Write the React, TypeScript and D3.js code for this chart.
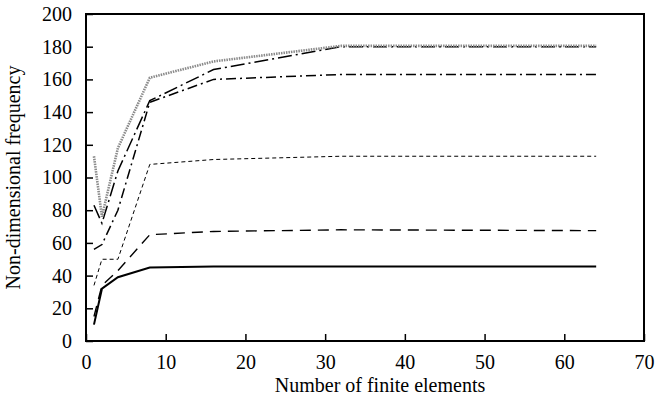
import * as d3 from 'd3';
import { useEffect, useRef } from 'react';

// number of elements used in each run
const elements = [1, 2, 4, 8, 16, 32, 64];

// non-dimensional frequencies, one array per mode
const mode1 = [10, 32, 39, 45, 45.5, 45.5, 45.5];
const mode2 = [15, 34, 43, 65, 67, 68, 67.5];
const mode3 = [34, 50, 50, 108, 111, 113, 113];
const mode4 = [56, 59, 80, 146, 160, 163, 163];
const mode5 = [83, 72, 104, 147, 166, 180, 180];
const mode6 = [113, 76, 118, 161, 171, 180.5, 180.5];

const xTicks = [0, 10, 20, 30, 40, 50, 60, 70];
const yTicks = [0, 20, 40, 60, 80, 100, 120, 140, 160, 180, 200];

const series = [
  { values: mode1, stroke: '#000', width: 2, dash: null },
  { values: mode2, stroke: '#000', width: 1.4, dash: '11 7' },
  { values: mode3, stroke: '#000', width: 1, dash: '4 3' },
  { values: mode4, stroke: '#000', width: 1.5, dash: '10 4 2 4' },
  { values: mode5, stroke: '#000', width: 1.5, dash: '14 4 2 4' },
  { values: mode6, stroke: '#8a8a8a', width: 2.6, dash: '1.5 1' },
];

const App = () => {
  const ref = useRef(null);

  useEffect(() => {
    const svg = d3.select(ref.current);
    svg.selectAll('*').remove();

    const width = 657;
    const height = 403;
    const margin = { top: 14, right: 13, bottom: 62, left: 86 };

    const x = d3.scaleLinear().domain([0, 70]).range([margin.left, width - margin.right]);
    const y = d3.scaleLinear().domain([0, 200]).range([height - margin.bottom, margin.top]);

    const font = '"Liberation Serif", "Times New Roman", serif';

    const line = d3.line().x((d, i) => x(elements[i])).y(d => y(d));

    series.forEach(s => {
      svg.append('path')
        .datum(s.values)
        .attr('d', line)
        .attr('fill', 'none')
        .attr('stroke', s.stroke)
        .attr('stroke-width', s.width)
        .attr('stroke-dasharray', s.dash);
    });

    // frame
    svg.append('rect')
      .attr('x', margin.left)
      .attr('y', margin.top)
      .attr('width', width - margin.left - margin.right)
      .attr('height', height - margin.top - margin.bottom)
      .attr('fill', 'none')
      .attr('stroke', '#000')
      .attr('stroke-width', 2);

    // x axis
    const xAxis = svg.append('g')
      .attr('transform', `translate(0, ${height - margin.bottom})`)
      .call(d3.axisBottom(x).tickValues(xTicks).tickSize(-7).tickPadding(14).tickFormat(d3.format('d')));
    xAxis.select('.domain').remove();
    xAxis.selectAll('line').attr('stroke-width', 1.5);
    xAxis.selectAll('text')
      .attr('font-family', font)
      .attr('font-size', 20)
      .attr('fill', '#000');

    // y axis
    const yAxis = svg.append('g')
      .attr('transform', `translate(${margin.left}, 0)`)
      .call(d3.axisLeft(y).tickValues(yTicks).tickSize(-7).tickPadding(14).tickFormat(d3.format('d')));
    yAxis.select('.domain').remove();
    yAxis.selectAll('line').attr('stroke-width', 1.5);
    yAxis.selectAll('text')
      .attr('font-family', font)
      .attr('font-size', 20)
      .attr('fill', '#000');

    svg.append('text')
      .attr('x', 380)
      .attr('y', 392)
      .attr('text-anchor', 'middle')
      .attr('font-family', font)
      .attr('font-size', 20)
      .text('Number of finite elements');

    svg.append('text')
      .attr('transform', `translate(20, ${(margin.top + height - margin.bottom) / 2}) rotate(-90)`)
      .attr('text-anchor', 'middle')
      .attr('font-family', font)
      .attr('font-size', 20)
      .text('Non-dimensional frequency');
  }, []);

  return (
    <svg ref={ref} width={657} height={403} style={{ position: 'absolute', left: 0, top: 0, background: '#fff' }} />
  );
};

export default App;
